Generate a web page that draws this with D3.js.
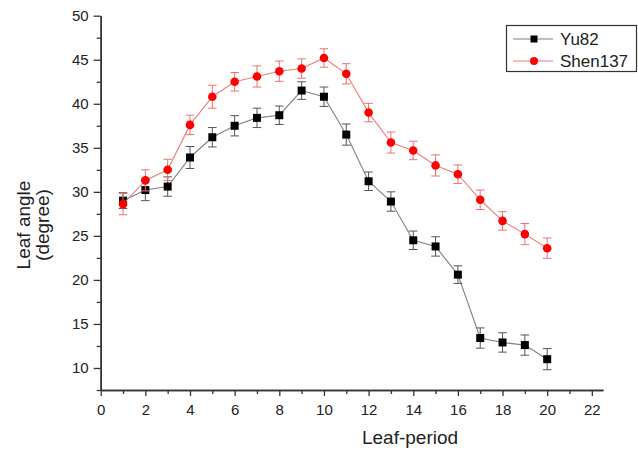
<!DOCTYPE html>
<html>
<head>
<meta charset="utf-8">
<script src="https://cdn.jsdelivr.net/npm/d3@7/dist/d3.min.js"></script>
<style>
  body { margin: 0; background: #fff; }
  svg { display: block; font-family: Arial, "Liberation Sans", sans-serif; }
</style>
</head>
<body>
<div id="chart"></div>
<script>
// data
const leafPeriod = [1, 2, 3, 4, 5, 6, 7, 8, 9, 10, 11, 12, 13, 14, 15, 16, 17, 18, 19, 20];
const yu82Mean = [29.0, 30.2, 30.6, 33.9, 36.2, 37.5, 38.4, 38.7, 41.5, 40.8, 36.5, 31.2, 28.9, 24.5, 23.8, 20.6, 13.4, 12.9, 12.6, 11.0];
const yu82Err  = [0.9, 1.2, 1.1, 1.25, 1.1, 1.15, 1.1, 1.05, 1.0, 1.1, 1.2, 1.05, 1.1, 1.05, 1.1, 1.0, 1.15, 1.1, 1.15, 1.2];
const shen137Mean = [28.6, 31.3, 32.5, 37.6, 40.8, 42.5, 43.1, 43.7, 44.0, 45.2, 43.4, 39.0, 35.6, 34.7, 33.0, 32.0, 29.1, 26.7, 25.2, 23.6];
const shen137Err  = [1.2, 1.2, 1.2, 1.1, 1.3, 1.05, 1.2, 1.15, 1.1, 1.05, 1.15, 1.05, 1.2, 1.05, 1.2, 1.05, 1.1, 1.05, 1.2, 1.15];
const xMajorTicks = [0, 2, 4, 6, 8, 10, 12, 14, 16, 18, 20, 22];
const xMinorTicks = [1, 3, 5, 7, 9, 11, 13, 15, 17, 19, 21];
const yMajorTicks = [10, 15, 20, 25, 30, 35, 40, 45, 50];
const yMinorTicks = [7.5, 12.5, 17.5, 22.5, 27.5, 32.5, 37.5, 42.5, 47.5];

const width = 638, height = 450;
const margin = { top: 15.7, right: 35, bottom: 60, left: 100.7 };

const svg = d3.select("#chart")
  .append("svg")
  .attr("width", width)
  .attr("height", height);

const g = svg.append("g")
  .attr("transform", `translate(${margin.left}, ${margin.top})`);

const plotW = width - margin.left - margin.right,
      plotH = height - margin.top - margin.bottom;

const x = d3.scaleLinear().domain([0, 22.5]).range([0, plotW]);
const y = d3.scaleLinear().domain([7.5, 50]).range([plotH, 0]);

// axes
function styleAxis(sel) {
  sel.select(".domain").attr("stroke", "#333").attr("stroke-width", 1.5);
  sel.selectAll(".tick line").attr("stroke", "#333").attr("stroke-width", 1.3);
  sel.selectAll(".tick text").attr("fill", "#222").style("font-size", "15px")
    .style("font-family", "Arial, 'Liberation Sans', sans-serif");
}

g.append("g")
  .attr("transform", `translate(0, ${plotH})`)
  .call(d3.axisBottom(x).tickValues(xMinorTicks).tickSize(4).tickSizeOuter(0).tickFormat(""))
  .call(styleAxis);
g.append("g")
  .attr("transform", `translate(0, ${plotH})`)
  .call(d3.axisBottom(x).tickValues(xMajorTicks).tickSize(6).tickPadding(8).tickSizeOuter(0))
  .call(styleAxis);

g.append("g")
  .call(d3.axisLeft(y).tickValues(yMinorTicks).tickSize(4).tickSizeOuter(0).tickFormat(""))
  .call(styleAxis);
g.append("g")
  .call(d3.axisLeft(y).tickValues(yMajorTicks).tickSize(7).tickPadding(5).tickSizeOuter(0))
  .call(styleAxis);

// axis titles
svg.append("text")
  .attr("x", 410)
  .attr("y", 444)
  .attr("text-anchor", "middle")
  .attr("fill", "#222")
  .style("font-size", "19px")
  .text("Leaf-period");

const yTitle = svg.append("text")
  .attr("transform", "translate(30, 225) rotate(-90)")
  .attr("text-anchor", "middle")
  .attr("fill", "#222")
  .style("font-size", "19px");
yTitle.append("tspan").attr("x", 0).attr("dy", 0).text("Leaf angle");
yTitle.append("tspan").attr("x", 0).attr("dy", 19).text("(degree)");

// series
const series = [
  { name: "Yu82", mean: yu82Mean, err: yu82Err, line: "#808080", bar: "#555", marker: "square", fill: "#000" },
  { name: "Shen137", mean: shen137Mean, err: shen137Err, line: "#f27a7a", bar: "#f07070", marker: "circle", fill: "#ff0000" }
];

series.forEach(s => {
  const pts = leafPeriod.map((p, i) => ({ p: p, v: s.mean[i], e: s.err[i] }));
  const sg = g.append("g");

  sg.append("path")
    .datum(pts)
    .attr("fill", "none")
    .attr("stroke", s.line)
    .attr("stroke-width", 1.1)
    .attr("d", d3.line().x(d => x(d.p)).y(d => y(d.v)));

  const eb = sg.selectAll(".eb").data(pts).enter().append("g")
    .attr("stroke", s.bar).attr("stroke-width", 1);
  eb.append("line")
    .attr("x1", d => x(d.p)).attr("x2", d => x(d.p))
    .attr("y1", d => y(d.v + d.e)).attr("y2", d => y(d.v - d.e));
  eb.append("line")
    .attr("x1", d => x(d.p) - 4.3).attr("x2", d => x(d.p) + 4.3)
    .attr("y1", d => y(d.v + d.e)).attr("y2", d => y(d.v + d.e));
  eb.append("line")
    .attr("x1", d => x(d.p) - 4.3).attr("x2", d => x(d.p) + 4.3)
    .attr("y1", d => y(d.v - d.e)).attr("y2", d => y(d.v - d.e));

  if (s.marker === "square") {
    sg.selectAll(".m").data(pts).enter().append("rect")
      .attr("x", d => x(d.p) - 4).attr("y", d => y(d.v) - 4)
      .attr("width", 8).attr("height", 8)
      .attr("fill", s.fill);
  } else {
    sg.selectAll(".m").data(pts).enter().append("circle")
      .attr("cx", d => x(d.p)).attr("cy", d => y(d.v))
      .attr("r", 4.3)
      .attr("fill", s.fill);
  }
});

// legend
const legend = svg.append("g");
legend.append("rect")
  .attr("x", 506.5).attr("y", 25.5)
  .attr("width", 130).attr("height", 46)
  .attr("fill", "#fff").attr("stroke", "#333").attr("stroke-width", 1.2);

series.forEach((s, i) => {
  const ly = 39 + i * 22;
  legend.append("line")
    .attr("x1", 513).attr("x2", 553).attr("y1", ly).attr("y2", ly)
    .attr("stroke", s.line).attr("stroke-width", 1.1);
  if (s.marker === "square") {
    legend.append("rect").attr("x", 530.5).attr("y", ly - 3.5)
      .attr("width", 7).attr("height", 7).attr("fill", s.fill);
  } else {
    legend.append("circle").attr("cx", 534).attr("cy", ly).attr("r", 4)
      .attr("fill", s.fill);
  }
  legend.append("text")
    .attr("x", 560).attr("y", ly + 6)
    .attr("fill", "#222")
    .style("font-size", "17px")
    .text(s.name);
});
</script>
</body>
</html>
